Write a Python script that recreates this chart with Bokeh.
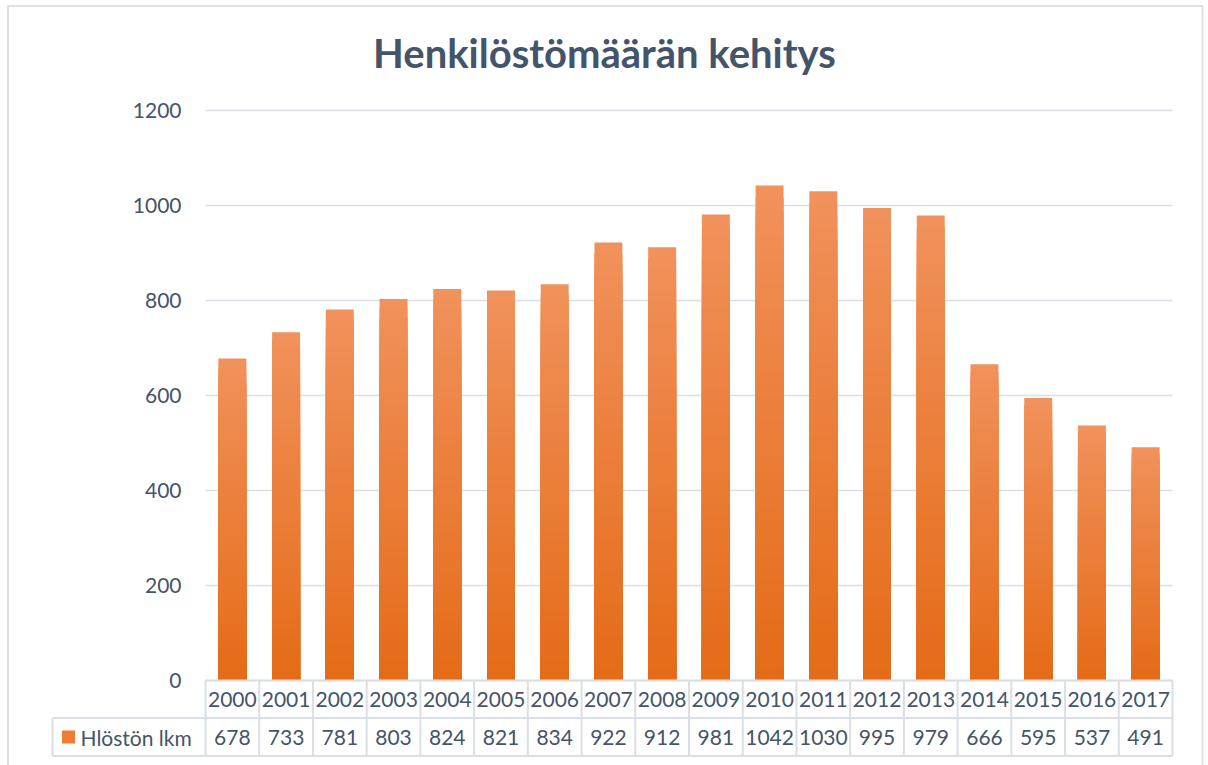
import numpy as np
from bokeh.plotting import figure
from bokeh.models import ColumnDataSource, Range1d
from bokeh.core.properties import value
from bokeh.embed import file_html
from bokeh.resources import INLINE

# ---- data ----
years = ["2000", "2001", "2002", "2003", "2004", "2005", "2006", "2007", "2008",
         "2009", "2010", "2011", "2012", "2013", "2014", "2015", "2016", "2017"]
counts = [678, 733, 781, 803, 824, 821, 834, 922, 912,
          981, 1042, 1030, 995, 979, 666, 595, 537, 491]
y_ticks = [0, 200, 400, 600, 800, 1000, 1200]
series_name = "Hlöstön lkm"
title_text = "Henkilöstömäärän kehitys"

# ---- layout (picture pixel geometry) ----
W, H = 1208, 765
OFF = 0
PLOT_L, PLOT_R = 205, 1172   # plot area in px
Y0_PX, YTOP_PX = 680, 110    # pixel of 0 and of top tick
n = len(years)
PX = (PLOT_R - PLOT_L) / n
PY = (Y0_PX - YTOP_PX) / y_ticks[-1]

def xu(px):  # px -> x data
    return (px - PLOT_L) / PX

def yu(py):  # py -> y data
    return (Y0_PX - py) / PY

p = figure(width=W, height=H, output_backend="svg", toolbar_location=None,
           x_range=Range1d(xu(OFF), xu(OFF + W)),
           y_range=Range1d(yu(OFF + H), yu(OFF)),
           min_border=0, min_border_left=0, min_border_right=0,
           min_border_top=0, min_border_bottom=0)
p.axis.visible = False
p.grid.visible = False
p.outline_line_color = None
p.background_fill_color = "white"
p.border_fill_color = "white"

TXT = "#44546A"
GRID = "#DCE0E6"
FONT = "Lato"
FS = "21px"

# outer chart border (left, top, right)
p.line(x=[xu(7.5)] * 2 + [xu(1202)] * 2,
       y=[yu(H), yu(5.5), yu(5.5), yu(H)],
       line_color="#DDE1E7", line_width=2)

# title
p.text(x=[xu(604)], y=[yu(52)], text=[title_text], text_font=value(FONT),
       text_font_style="bold", text_font_size="40px", text_color=TXT,
       text_align="center", text_baseline="middle")

# gridlines
p.segment(x0=[0] * len(y_ticks), y0=y_ticks, x1=[n] * len(y_ticks), y1=y_ticks,
          line_color=GRID, line_width=1.6)

# y tick labels
p.text(x=[xu(181)] * len(y_ticks), y=y_ticks, text=[str(t) for t in y_ticks],
       text_font=value(FONT), text_font_size=FS, text_color=TXT,
       text_align="right", text_baseline="middle")

# bars with vertical gradient (light top -> dark bottom)
xs = np.arange(n) + 0.5
vals = np.array(counts, dtype=float)
top_c = np.array([0xF1, 0x91, 0x5B])
bot_c = np.array([0xE4, 0x6A, 0x16])
N = 40
for j in range(N, 0, -1):
    f = j / N
    c = bot_c + (top_c - bot_c) * f
    col = "#%02x%02x%02x" % tuple(int(round(v)) for v in c)
    p.vbar(x=xs, top=vals * f, bottom=0, width=0.52, fill_color=col, line_color=None)

# data table
row_sep = yu(717.5)
row_bot = yu(755.5)
leg_l = xu(52)
TBL = "#DADFE6"
p.segment(x0=[0, leg_l, leg_l], y0=[0, row_sep, row_bot],
          x1=[n, n, n], y1=[0, row_sep, row_bot], line_color=TBL, line_width=2)
vx = list(range(n + 1))
p.segment(x0=vx, y0=[0] * len(vx), x1=vx, y1=[row_bot] * len(vx),
          line_color=TBL, line_width=2)
p.segment(x0=[leg_l], y0=[row_sep], x1=[leg_l], y1=[row_bot], line_color=TBL, line_width=2)

src = ColumnDataSource(dict(x=xs, year=years, val=[str(c) for c in counts]))
p.text(x="x", y=yu(699), text="year", source=src, text_font=value(FONT),
       text_font_size=FS, text_color=TXT, text_align="center", text_baseline="middle")
p.text(x="x", y=yu(737), text="val", source=src, text_font=value(FONT),
       text_font_size=FS, text_color=TXT, text_align="center", text_baseline="middle")

# legend key + name
p.rect(x=[xu(68)], y=[yu(736.5)], width=13 / PX, height=13 / PY,
       fill_color="#EE7D33", line_color=None)
p.text(x=[xu(80)], y=[yu(737)], text=[series_name], text_font=value(FONT),
       text_font_size=FS, text_color=TXT, text_align="left", text_baseline="middle")

open("out.html", "w").write(file_html(p, INLINE))
